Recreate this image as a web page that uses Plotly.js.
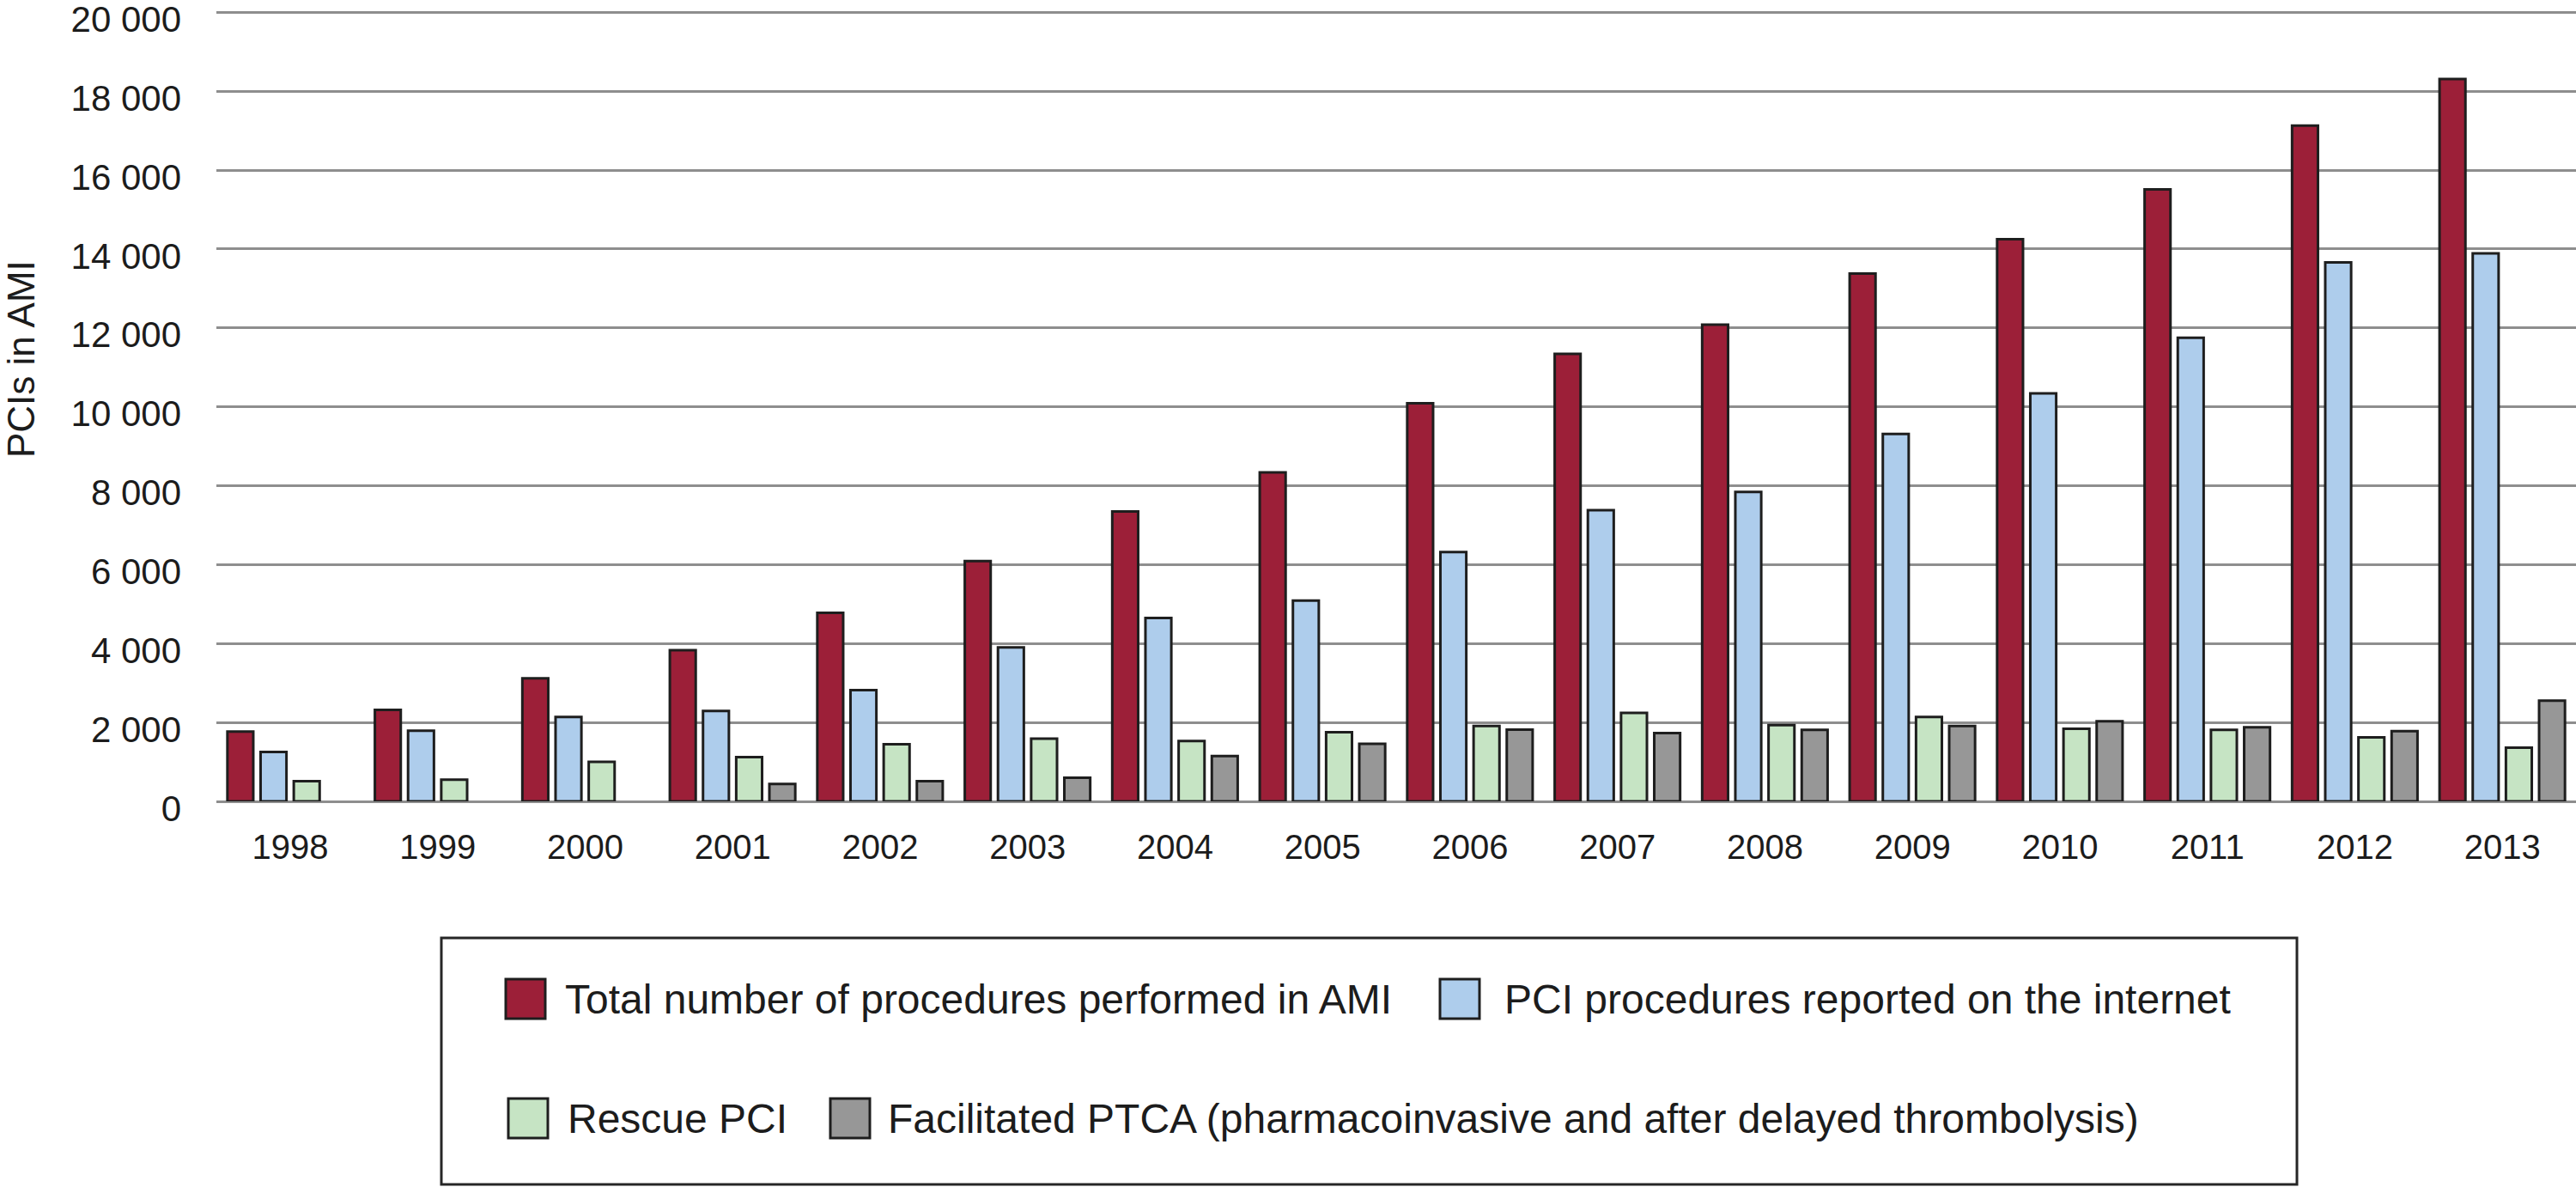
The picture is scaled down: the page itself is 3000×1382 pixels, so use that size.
<!DOCTYPE html>
<html>
<head>
<meta charset="utf-8">
<script src="https://cdn.plot.ly/plotly-3.0.1.min.js"></script>
<style>
  html, body { margin: 0; padding: 0; background: #fff; }
  #chart { width: 3000px; height: 1382px; }
</style>
</head>
<body>
<div id="chart"></div>
<script>
// years on the x axis
const years = ['1998','1999','2000','2001','2002','2003','2004','2005',
               '2006','2007','2008','2009','2010','2011','2012','2013'];

// series
const totalAMI    = [1770, 2320, 3120, 3830, 4780, 6090, 7350, 8340, 10090, 11340, 12080, 13380, 14250, 15510, 17130, 18310];
const internetPCI = [1250, 1790, 2140, 2290, 2820, 3900, 4650, 5090, 6320, 7380, 7840, 9310, 10340, 11750, 13660, 13890];
const rescuePCI   = [510, 550, 1000, 1120, 1450, 1590, 1530, 1750, 1910, 2240, 1930, 2140, 1840, 1810, 1620, 1360];
const facilPTCA   = [null, null, null, 440, 510, 600, 1150, 1460, 1820, 1730, 1810, 1910, 2030, 1880, 1780, 2550];

const names = [
  'Total number of procedures performed in AMI',
  'PCI procedures reported on the internet',
  'Rescue PCI',
  'Facilitated PTCA (pharmacoinvasive and after delayed thrombolysis)'
];
const colors = ['#9c1f38', '#aecdec', '#c6e4c4', '#979797'];
const series = [totalAMI, internetPCI, rescuePCI, facilPTCA];

const yTicks = [0, 2000, 4000, 6000, 8000, 10000, 12000, 14000, 16000, 18000, 20000];

const fontFam = '"Liberation Sans", Arial, Helvetica, sans-serif';
const ink = '#1c1c1c';

// plot area in pixels, used to place the hand-made legend
const W = 3000, H = 1382;
const mL = 252, mR = 0, mT = 12, mB = 449;
const pw = W - mL - mR, ph = H - mT - mB;
function px(x) { return (x - mL) / pw; }
function py(y) { return (H - mB - y) / ph; }

let data = [];
for (let i = 0; i < series.length; i++) {
  data.push({
    type: 'bar',
    name: names[i],
    x: years,
    y: series[i],
    marker: { color: colors[i], line: { color: '#1e1e1e', width: 3 } },
    showlegend: false,
    hoverinfo: 'x+y+name'
  });
}

// legend: two rows inside a framed box
let legendItems = [
  { swatch: 589,  text: 656,  y: 1163 },
  { swatch: 1677, text: 1750, y: 1163 },
  { swatch: 592,  text: 659,  y: 1302 },
  { swatch: 967,  text: 1032, y: 1302 }
];

let shapes = [{
  type: 'rect', xref: 'paper', yref: 'paper',
  x0: px(514), x1: px(2675), y0: py(1379), y1: py(1092),
  line: { color: '#262626', width: 3 }, fillcolor: 'rgba(0,0,0,0)'
}];

let annotations = [{
  text: 'PCIs in AMI', xref: 'paper', yref: 'paper',
  x: px(24), y: py(418), xanchor: 'center', yanchor: 'middle',
  textangle: -90, showarrow: false,
  font: { family: fontFam, size: 44, color: ink }
}];

for (let i = 0; i < legendItems.length; i++) {
  let it = legendItems[i];
  shapes.push({
    type: 'rect', xref: 'paper', yref: 'paper',
    x0: px(it.swatch), x1: px(it.swatch + 46),
    y0: py(it.y + 23), y1: py(it.y - 23),
    fillcolor: colors[i], line: { color: '#1e1e1e', width: 3 }
  });
  annotations.push({
    text: names[i], xref: 'paper', yref: 'paper',
    x: px(it.text), y: py(it.y), xanchor: 'left', yanchor: 'middle',
    showarrow: false,
    font: { family: fontFam, size: 48, color: ink }
  });
}

let layout = {
  width: W, height: H,
  margin: { l: mL, r: mR, t: mT, b: mB, pad: 0 },
  paper_bgcolor: '#ffffff',
  plot_bgcolor: '#ffffff',
  font: { family: fontFam, size: 40, color: ink },
  separators: '. ',
  barmode: 'group',
  bargap: 0.1,
  bargroupgap: 0.22,
  showlegend: false,
  xaxis: {
    type: 'category',
    showgrid: false,
    zeroline: false,
    showline: false,
    ticks: '',
    ticklabelstandoff: 26,
    tickfont: { family: fontFam, size: 40, color: ink }
  },
  yaxis: {
    range: [0, 20050],
    tickvals: yTicks,
    tickformat: ',d',
    showgrid: true,
    gridcolor: '#8e8e8e',
    gridwidth: 3,
    zeroline: true,
    zerolinecolor: '#8e8e8e',
    zerolinewidth: 3,
    showline: false,
    ticks: '',
    ticklabelstandoff: 40,
    ticklabelshift: 8,
    ticklabeloverflow: 'allow',
    tickfont: { family: fontFam, size: 42, color: ink }
  },
  shapes: shapes,
  annotations: annotations
};

Plotly.newPlot('chart', data, layout, { staticPlot: true, displaylogo: false });
</script>
</body>
</html>
